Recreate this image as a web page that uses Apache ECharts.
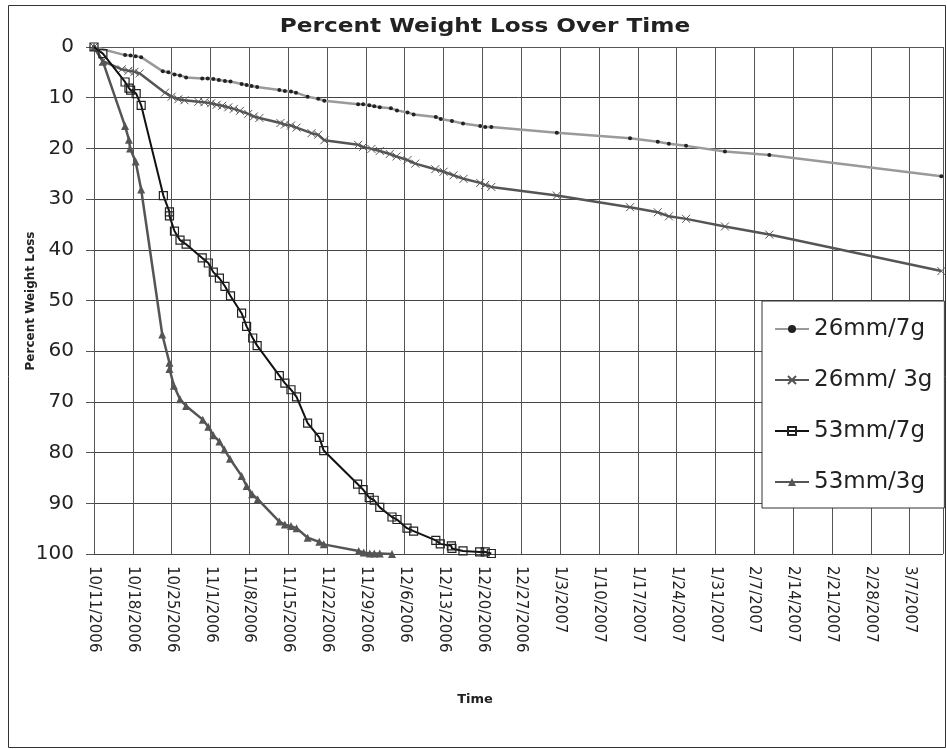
<!DOCTYPE html>
<html>
<head>
<meta charset="utf-8">
<script src="https://cdn.jsdelivr.net/npm/echarts@6/dist/echarts.min.js"></script>
<style>
html,body{margin:0;padding:0;background:#fff;}
#c{width:947px;height:749px;}
</style>
</head>
<body>
<div id="c"></div>
<script>
// x values are days elapsed since 10/11/2006
var tickLabels = ['10/11/2006','10/18/2006','10/25/2006','11/1/2006','11/8/2006','11/15/2006','11/22/2006','11/29/2006','12/6/2006','12/13/2006','12/20/2006','12/27/2006','1/3/2007','1/10/2007','1/17/2007','1/24/2007','1/31/2007','2/7/2007','2/14/2007','2/21/2007','2/28/2007','3/7/2007'];
var seriesNames = ['26mm/7g', '26mm/ 3g', '53mm/7g', '53mm/3g'];

var days1 = [0, 5.6, 6.6, 7.5, 8.5, 12.4, 13.4, 14.5, 15.5, 16.6, 19.5, 20.5, 21.5, 22.5, 23.6, 24.6, 26.6, 27.5, 28.4, 29.4, 33.4, 34.4, 35.5, 36.4, 38.5, 40.4, 41.5, 47.6, 48.5, 49.6, 50.5, 51.5, 53.5, 54.6, 56.5, 57.6, 61.6, 62.5, 64.5, 66.5, 69.6, 70.5, 71.6, 83.4, 96.6, 101.6, 103.6, 106.7, 113.7, 121.7, 152.7];
var vals1 = [0, 1.6, 1.7, 1.8, 2.0, 4.8, 5.0, 5.4, 5.6, 6.0, 6.2, 6.2, 6.3, 6.5, 6.7, 6.8, 7.3, 7.5, 7.7, 7.9, 8.5, 8.7, 8.8, 9.0, 9.8, 10.2, 10.6, 11.3, 11.3, 11.5, 11.7, 11.9, 12.1, 12.5, 12.9, 13.3, 13.8, 14.2, 14.6, 15.1, 15.6, 15.8, 15.8, 16.9, 18.0, 18.7, 19.1, 19.5, 20.6, 21.3, 25.5];

var days2 = [0, 1.6, 5.0, 6.2, 7.3, 8.2, 12.8, 14.0, 15.2, 16.3, 18.8, 19.9, 21.1, 22.1, 23.1, 24.2, 25.2, 26.3, 27.8, 28.8, 29.8, 33.6, 34.4, 35.5, 36.5, 39.2, 40.4, 41.5, 47.6, 48.5, 50.0, 51.5, 53.3, 54.5, 56.5, 57.9, 61.5, 63.0, 64.8, 66.6, 69.6, 70.5, 71.6, 83.4, 96.6, 101.6, 103.6, 106.7, 113.7, 121.7, 152.7];
var vals2 = [0, 2.8, 4.4, 4.7, 4.9, 5.2, 9.0, 9.8, 10.3, 10.5, 10.8, 10.9, 11.1, 11.4, 11.6, 11.9, 12.2, 12.6, 13.2, 13.7, 14.0, 15.0, 15.3, 15.5, 15.9, 17.0, 17.3, 18.4, 19.3, 19.7, 20.1, 20.5, 21.1, 21.6, 22.3, 23.0, 24.1, 24.6, 25.3, 26.0, 26.8, 27.2, 27.6, 29.3, 31.6, 32.6, 33.4, 33.9, 35.4, 37.0, 44.2];

var days3 = [0, 1.6, 5.6, 6.3, 6.6, 7.6, 8.5, 12.5, 13.6, 13.6, 14.5, 15.5, 16.6, 19.5, 20.6, 21.5, 22.6, 23.6, 24.6, 26.6, 27.5, 28.6, 29.4, 33.4, 34.4, 35.5, 36.5, 38.5, 40.6, 41.4, 47.5, 48.5, 49.6, 50.5, 51.5, 53.7, 54.6, 56.4, 57.6, 61.6, 62.4, 64.4, 64.5, 66.5, 69.5, 70.5, 71.6];
var vals3 = [0, 1.3, 6.9, 8.1, 8.5, 9.2, 11.5, 29.3, 32.5, 33.3, 36.3, 38.1, 38.9, 41.6, 42.6, 44.4, 45.6, 47.2, 49.1, 52.5, 55.1, 57.4, 58.9, 64.8, 66.3, 67.6, 69.0, 74.2, 77.0, 79.6, 86.2, 87.3, 88.9, 89.4, 90.8, 92.7, 93.2, 94.9, 95.5, 97.3, 98.0, 98.4, 98.9, 99.4, 99.6, 99.6, 99.9];

var days4 = [0, 1.6, 5.6, 6.3, 6.5, 7.5, 8.5, 12.3, 13.6, 13.6, 14.4, 15.5, 16.6, 19.6, 20.6, 21.5, 22.6, 23.5, 24.5, 26.6, 27.5, 28.5, 29.5, 33.4, 34.4, 35.5, 36.5, 38.5, 40.6, 41.4, 47.7, 48.6, 49.7, 50.5, 51.5, 53.7];
var vals4 = [0, 2.9, 15.6, 18.3, 20.0, 22.6, 28.1, 56.7, 62.3, 63.5, 66.8, 69.5, 70.8, 73.5, 74.9, 76.6, 77.8, 79.4, 81.2, 84.6, 86.6, 88.2, 89.2, 93.6, 94.2, 94.5, 94.9, 96.8, 97.6, 98.1, 99.4, 99.7, 99.9, 99.9, 99.9, 100];

function pairs(xs, ys) { return xs.map(function (x, i) { return [x, ys[i]]; }); }

var FONT = 'DejaVu Sans';
var chart = echarts.init(document.getElementById('c'), null, {renderer: 'canvas'});
chart.setOption({
  animation: false,
  backgroundColor: '#fff',
  textStyle: {fontFamily: FONT},
  graphic: [
    {type: 'rect', silent: true, z: -10, shape: {x: 8.5, y: 5.5, width: 937, height: 742},
     style: {fill: 'none', stroke: '#333', lineWidth: 1}},
    {type: 'text', x: 485, y: 27, scaleX: 1.16, silent: true,
     style: {text: 'Percent Weight Loss Over Time', font: 'bold 20px "DejaVu Sans"', fill: '#222',
             textAlign: 'center', textVerticalAlign: 'middle'}},
    {type: 'text', x: 475, y: 700, silent: true,
     style: {text: 'Time', font: 'bold 13px "DejaVu Sans"', fill: '#222',
             textAlign: 'center', textVerticalAlign: 'middle'}},
    {type: 'text', x: 31, y: 301, rotation: Math.PI / 2, silent: true,
     style: {text: 'Percent Weight Loss', font: 'bold 12px "DejaVu Sans"', fill: '#222',
             textAlign: 'center', textVerticalAlign: 'middle'}}
  ],
  grid: {left: 94, top: 47, width: 849, height: 507, containLabel: false},
  legend: {
    orient: 'vertical', left: 762, top: 301,
    padding: [15, 12, 13, 12],
    backgroundColor: '#fff', borderColor: '#333', borderWidth: 1,
    itemWidth: 34, itemHeight: 10, itemGap: 25,
    textStyle: {fontSize: 23, lineHeight: 26, color: '#222', fontFamily: FONT},
    data: seriesNames
  },
  xAxis: {
    type: 'value', min: 0, max: 153, interval: 7,
    axisLine: {show: true, lineStyle: {color: '#555'}},
    axisTick: {show: true, length: 5, lineStyle: {color: '#555'}},
    splitLine: {show: true, lineStyle: {color: '#555', width: 1}},
    axisLabel: {
      rotate: -90, fontSize: 15, color: '#222', margin: 12,
      formatter: function (v) { return (v % 7 === 0 && tickLabels[v / 7]) ? tickLabels[v / 7] : ''; }
    }
  },
  yAxis: {
    type: 'value', inverse: true, min: 0, max: 100, interval: 10,
    axisLine: {show: true, lineStyle: {color: '#555'}},
    axisTick: {show: true, length: 8, lineStyle: {color: '#555'}},
    splitLine: {show: true, lineStyle: {color: '#444', width: 1}},
    axisLabel: {fontSize: 20, color: '#222', margin: 20}
  },
  series: [
    {name: seriesNames[0], type: 'line', data: pairs(days1, vals1), z: 2,
     lineStyle: {color: '#9a9a9a', width: 2.5},
     symbol: 'circle', symbolSize: 4,
     itemStyle: {color: '#222'}},
    {name: seriesNames[1], type: 'line', data: pairs(days2, vals2), z: 3,
     lineStyle: {color: '#555', width: 2.5},
     symbol: 'path://M0,0L10,10M10,0L0,10', symbolSize: 8,
     itemStyle: {color: 'rgba(0,0,0,0)', borderColor: '#555', borderWidth: 1}},
    {name: seriesNames[2], type: 'line', data: pairs(days3, vals3), z: 4,
     lineStyle: {color: '#111', width: 2},
     symbol: 'rect', symbolSize: 8,
     itemStyle: {color: 'rgba(0,0,0,0)', borderColor: '#222', borderWidth: 1.2}},
    {name: seriesNames[3], type: 'line', data: pairs(days4, vals4), z: 3,
     lineStyle: {color: '#555', width: 2.5},
     symbol: 'triangle', symbolSize: 8,
     itemStyle: {color: '#555'}}
  ]
});
</script>
</body>
</html>
